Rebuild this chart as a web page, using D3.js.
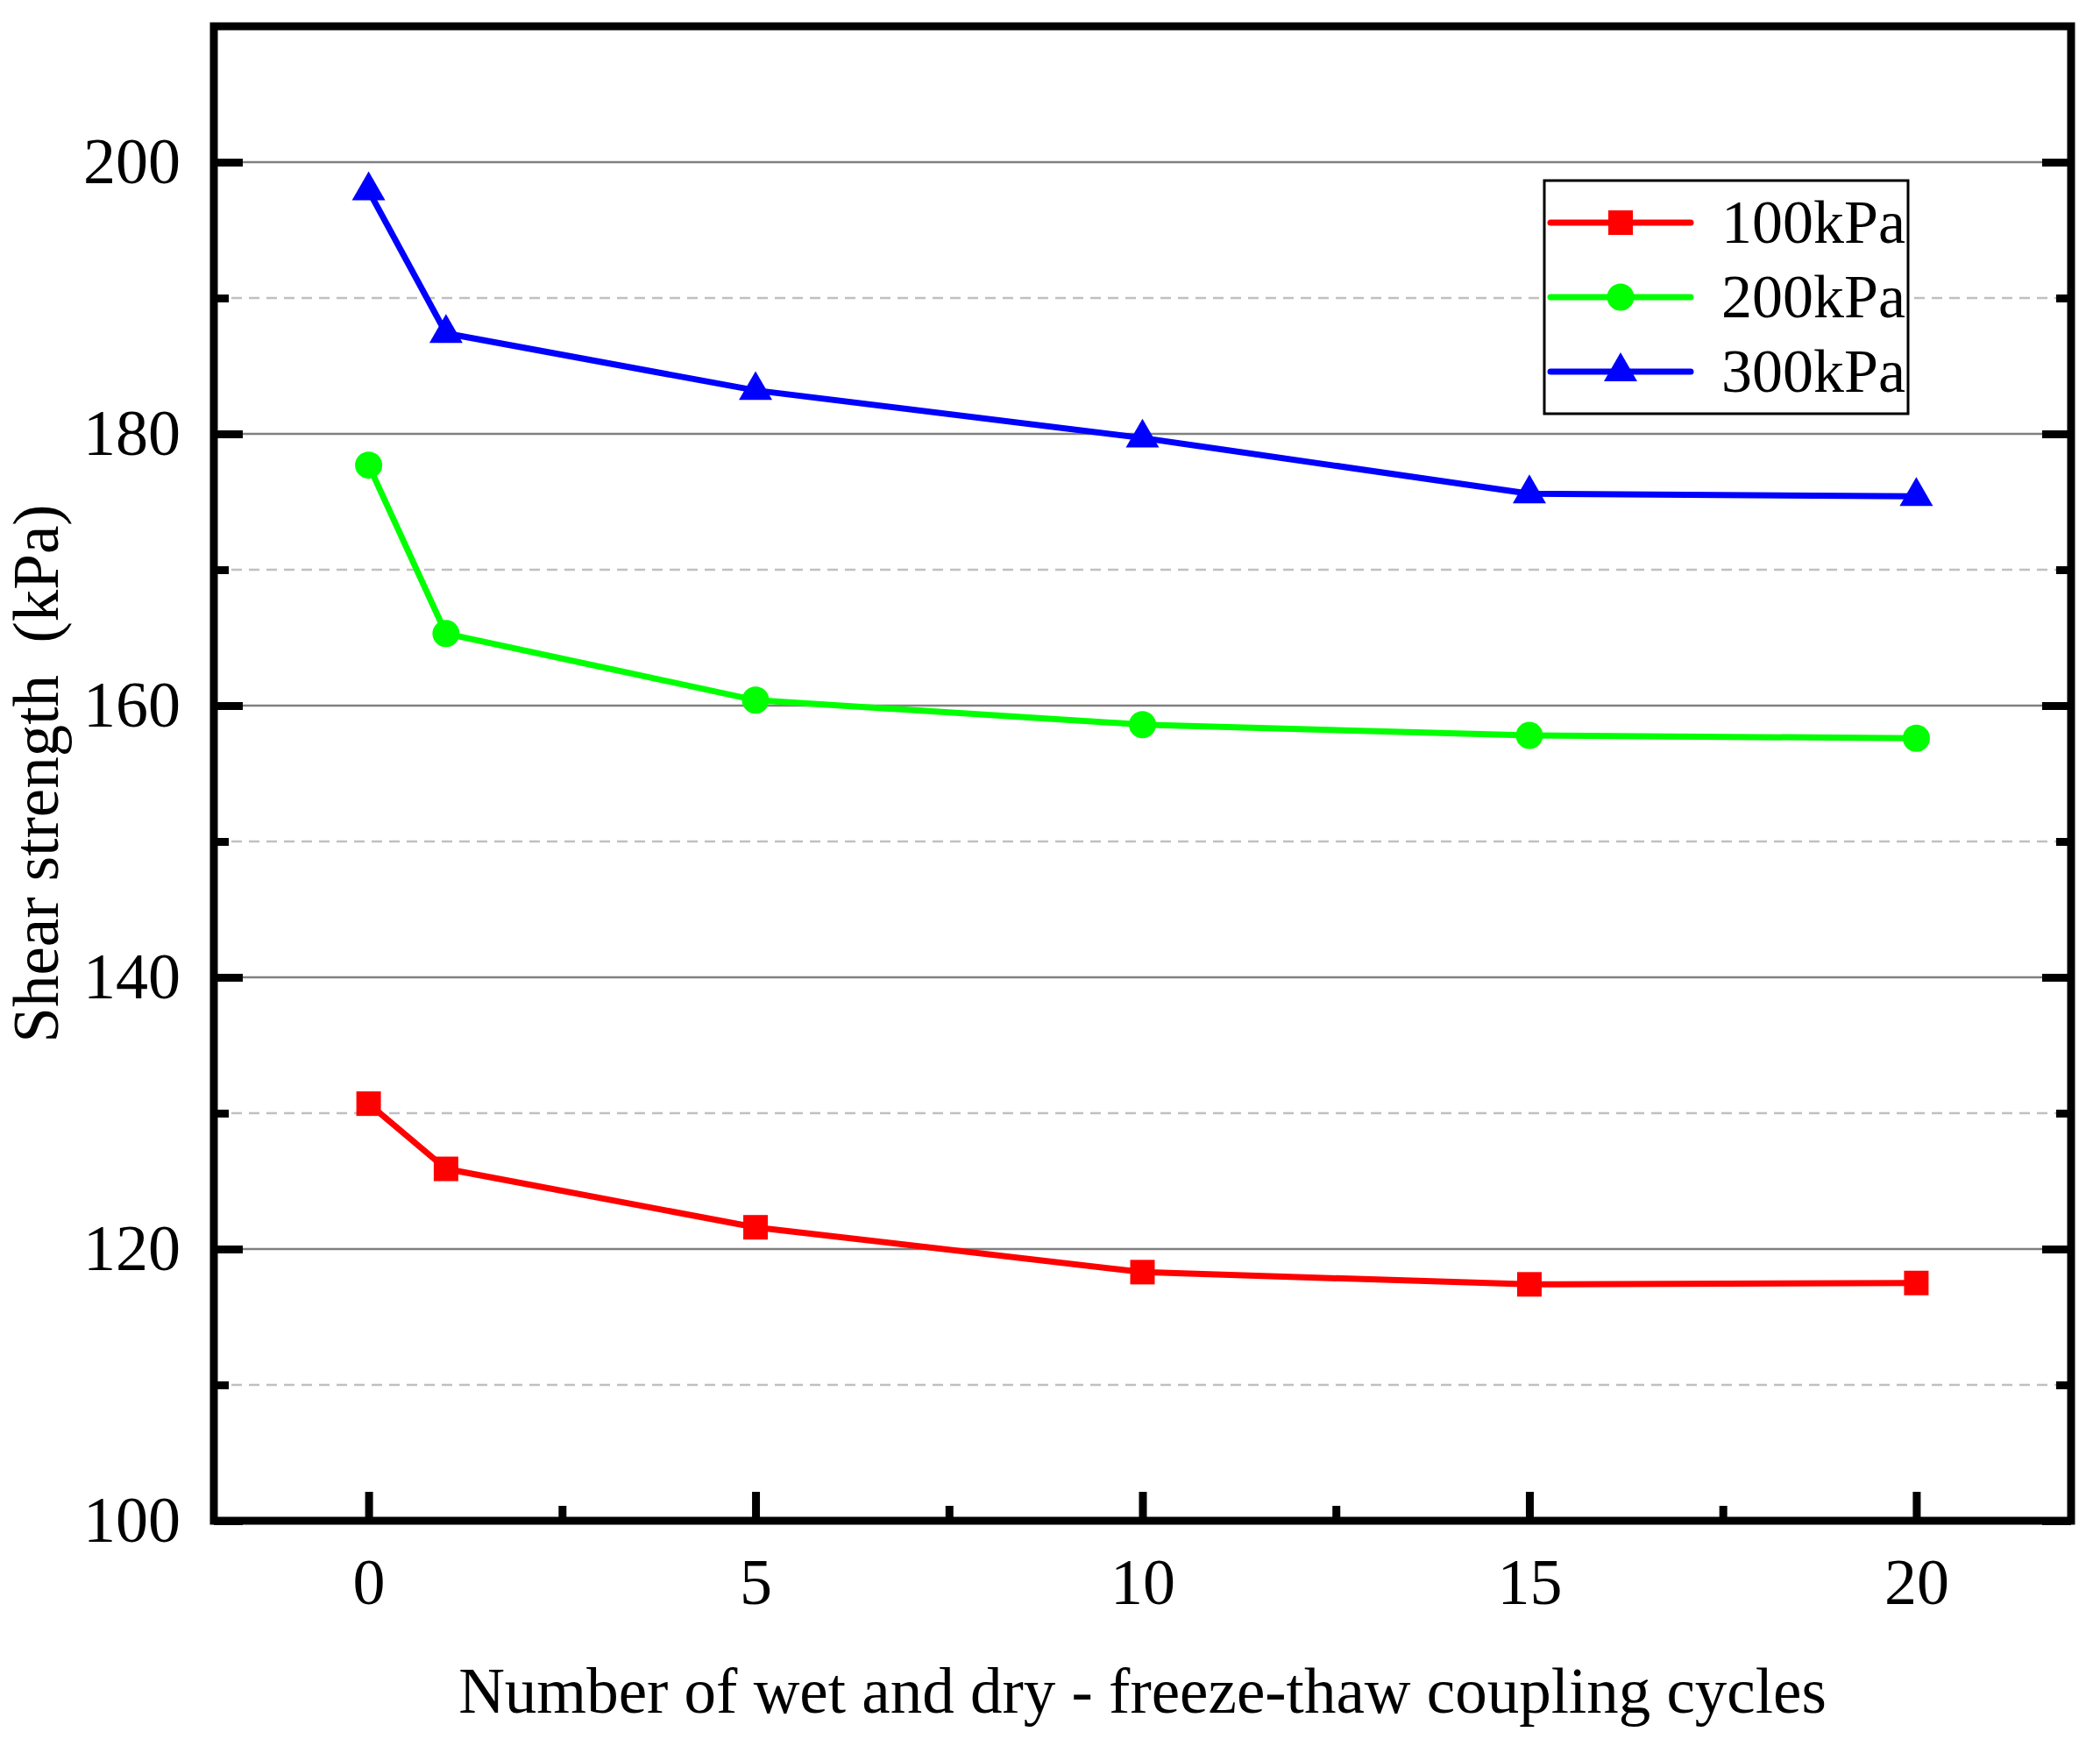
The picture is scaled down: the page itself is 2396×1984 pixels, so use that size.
<!DOCTYPE html>
<html>
<head>
<meta charset="utf-8">
<script src="https://cdn.jsdelivr.net/npm/d3@7"></script>
<style>
  body { margin: 0; background: #fff; }
  text { font-family: "Liberation Serif", "Times New Roman", serif; fill: #000; }
</style>
</head>
<body>
<svg id="chart"></svg>
<script>
const width = 2396;
const height = 1984;
const margin = { top: 30, right: 33, bottom: 249, left: 244 };

// data
const cycles = [0, 1, 5, 10, 15, 20];
const s100 = [130.7, 125.9, 121.6, 118.3, 117.4, 117.5];
const s200 = [177.7, 165.3, 160.4, 158.6, 157.8, 157.6];
const s300 = [197.9, 187.4, 183.2, 179.7, 175.6, 175.4];
const seriesNames = ['100kPa', '200kPa', '300kPa'];
const xTicks = [0, 5, 10, 15, 20];
const xMinor = [2.5, 7.5, 12.5, 17.5];
const yTicks = [100, 120, 140, 160, 180, 200];
const yMinor = [110, 130, 150, 170, 190];

const series = [
    { name: seriesNames[0], values: s100, color: '#ff0000', symbol: d3.symbolSquare, size: 28 * 28 },
    { name: seriesNames[1], values: s200, color: '#00ff00', symbol: d3.symbolCircle, size: Math.PI * 15.5 * 15.5 },
    { name: seriesNames[2], values: s300, color: '#0000ff', symbol: d3.symbolTriangle, size: 625 }
];

const svg = d3.select('#chart')
    .attr('width', width)
    .attr('height', height);

const x = d3.scaleLinear().domain([-2, 22]).range([margin.left, width - margin.right]);
const y = d3.scaleLinear().domain([100, 210]).range([height - margin.bottom, margin.top]);

// grid lines
svg.append('g').selectAll('line')
    .data(yTicks.filter(d => d > 100))
    .enter().append('line')
    .attr('x1', x(-2)).attr('x2', x(22))
    .attr('y1', d => y(d)).attr('y2', d => y(d))
    .attr('stroke', '#808080').attr('stroke-width', 2.5);

svg.append('g').selectAll('line')
    .data(yMinor)
    .enter().append('line')
    .attr('x1', x(-2)).attr('x2', x(22))
    .attr('y1', d => y(d)).attr('y2', d => y(d))
    .attr('stroke', '#c0c0c0').attr('stroke-width', 2.5)
    .attr('stroke-dasharray', '12,8');

// axes
const bottomAxis = svg.append('g')
    .attr('transform', `translate(0, ${y(100)})`)
    .call(d3.axisBottom(x).tickValues(xTicks).tickSize(-33).tickPadding(42).tickFormat(d3.format('d')));

const bottomMinor = svg.append('g')
    .attr('transform', `translate(0, ${y(100)})`)
    .call(d3.axisBottom(x).tickValues(xMinor).tickSize(-17).tickFormat(''));

const leftAxis = svg.append('g')
    .attr('transform', `translate(${x(-2)}, 0)`)
    .call(d3.axisLeft(y).tickValues(yTicks).tickSize(-33).tickPadding(38).tickFormat(d3.format('d')));

const leftMinor = svg.append('g')
    .attr('transform', `translate(${x(-2)}, 0)`)
    .call(d3.axisLeft(y).tickValues(yMinor).tickSize(-17).tickFormat(''));

const rightAxis = svg.append('g')
    .attr('transform', `translate(${x(22)}, 0)`)
    .call(d3.axisRight(y).tickValues(yTicks).tickSize(-33).tickFormat(''));

const rightMinor = svg.append('g')
    .attr('transform', `translate(${x(22)}, 0)`)
    .call(d3.axisRight(y).tickValues(yMinor).tickSize(-17).tickFormat(''));

[bottomAxis, bottomMinor, leftAxis, leftMinor, rightAxis, rightMinor].forEach(g => {
    g.select('.domain').remove();
    g.selectAll('.tick line').attr('stroke', '#000').attr('stroke-width', 9);
    g.selectAll('.tick text').style('font-size', '74px').attr('fill', '#000');
});
bottomAxis.selectAll('.tick text').attr('dy', '0.71em');

// frame
svg.append('rect')
    .attr('x', x(-2)).attr('y', y(210))
    .attr('width', x(22) - x(-2)).attr('height', y(100) - y(210))
    .attr('fill', 'none').attr('stroke', '#000').attr('stroke-width', 9);

// series
const line = d3.line()
    .x((d, i) => x(cycles[i]))
    .y(d => y(d));

series.forEach(s => {
    svg.append('path')
        .datum(s.values)
        .attr('d', line)
        .attr('fill', 'none')
        .attr('stroke', s.color)
        .attr('stroke-width', 7);

    svg.append('g').selectAll('path')
        .data(s.values)
        .enter().append('path')
        .attr('d', d3.symbol().type(s.symbol).size(s.size))
        .attr('transform', (d, i) => `translate(${x(cycles[i])}, ${y(d)})`)
        .attr('fill', s.color);
});

// axis titles
svg.append('text')
    .attr('x', (x(-2) + x(22)) / 2)
    .attr('y', 1954)
    .attr('text-anchor', 'middle')
    .style('font-size', '73px')
    .text('Number of wet and dry - freeze-thaw coupling cycles');

svg.append('text')
    .attr('transform', `translate(66, ${(y(100) + y(210)) / 2}) rotate(-90)`)
    .attr('text-anchor', 'middle')
    .style('font-size', '73px')
    .style('white-space', 'pre')
    .text('Shear strength  (kPa)');

// legend
const legend = svg.append('g');
legend.append('rect')
    .attr('x', 1762).attr('y', 206)
    .attr('width', 415).attr('height', 266)
    .attr('fill', '#fff').attr('stroke', '#000').attr('stroke-width', 3);

const rowY = d3.scalePoint().domain(seriesNames).range([254, 424]);
series.forEach(s => {
    const g = legend.append('g').attr('transform', `translate(0, ${rowY(s.name)})`);
    g.append('line')
        .attr('x1', 1769).attr('x2', 1929)
        .attr('stroke', s.color).attr('stroke-width', 7)
        .attr('stroke-linecap', 'round');
    g.append('path')
        .attr('d', d3.symbol().type(s.symbol).size(s.size))
        .attr('transform', 'translate(1849, 0)')
        .attr('fill', s.color);
    g.append('text')
        .attr('x', 1964).attr('dy', '0.33em')
        .style('font-size', '70px')
        .text(s.name);
});
</script>
</body>
</html>
